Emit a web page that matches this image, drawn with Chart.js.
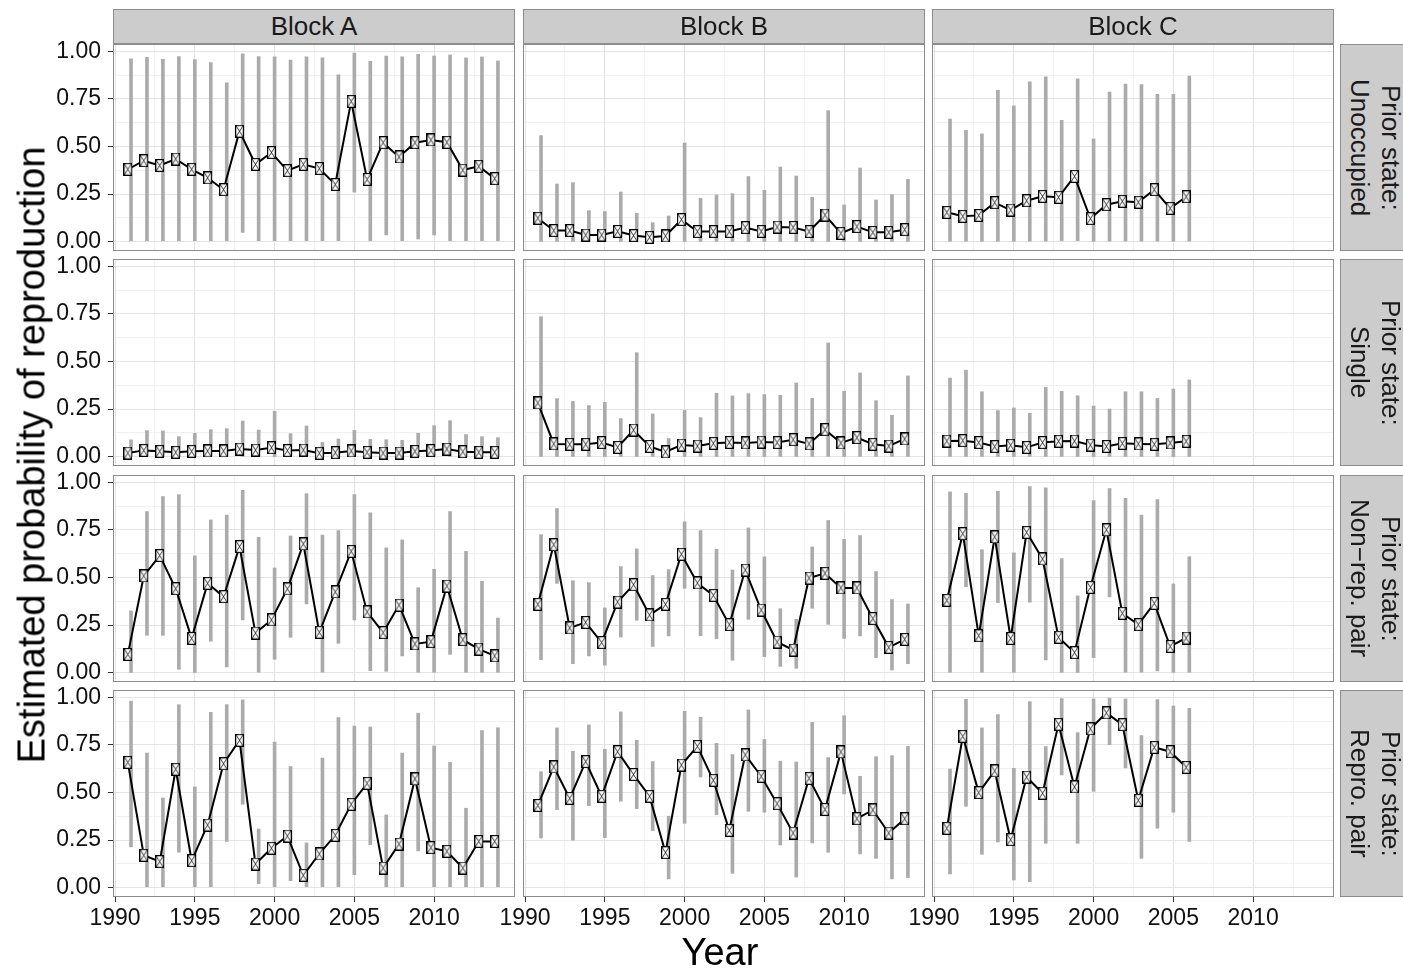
<!DOCTYPE html>
<html>
<head>
<meta charset="utf-8">
<script src="https://cdn.jsdelivr.net/npm/chart.js@4.4.1/dist/chart.umd.min.js"></script>
<style>
body{margin:0;background:#fff;font-family:"Liberation Sans",Arial,sans-serif;}
#fig{position:relative;width:1403px;height:968px;overflow:hidden;background:#fff;}
canvas{position:absolute;}
.strip{position:absolute;background:#cccccc;border:1px solid #8c8c8c;box-sizing:border-box;color:#1a1a1a;font-size:26px;display:flex;align-items:center;justify-content:center;text-align:center;line-height:31px;}
.rstrip div{writing-mode:vertical-rl;white-space:nowrap;}
.title{position:absolute;font-size:38px;color:#000;white-space:nowrap;}
</style>
</head>
<body>
<div id="fig"></div>
<script>
// facets
const blocks = ['Block A','Block B','Block C'];
const states = [['Prior state:','Unoccupied'],['Prior state:','Single'],['Prior state:','Non\u2212rep. pair'],['Prior state:','Repro. pair']];
const yearsAB = [1991,1992,1993,1994,1995,1996,1997,1998,1999,2000,2001,2002,2003,2004,2005,2006,2007,2008,2009,2010,2011,2012,2013,2014];
const yearsC = [1991,1992,1993,1994,1995,1996,1997,1998,1999,2000,2001,2002,2003,2004,2005,2006];
const xTickLabels = [1990,1995,2000,2005,2010];
const yTickLabels = [0,0.25,0.5,0.75,1];

// prior state: unoccupied
const unoccA_est = [0.38,0.425,0.40,0.434,0.38,0.335,0.273,0.58,0.406,0.468,0.373,0.406,0.384,0.30,0.737,0.327,0.52,0.445,0.52,0.534,0.522,0.376,0.396,0.331];
const unoccA_lo  = [0.005,0.005,0.005,0.005,0.005,0.005,0.005,0.049,0.005,0.005,0.005,0.005,0.005,0.005,0.26,0.005,0.035,0.005,0.014,0.035,0.005,0.005,0.005,0.005];
const unoccA_hi  = [0.96,0.968,0.958,0.972,0.956,0.94,0.834,0.986,0.972,0.97,0.954,0.97,0.965,0.876,0.99,0.947,0.975,0.97,0.984,0.975,0.98,0.965,0.97,0.949];
const unoccB_est = [0.123,0.058,0.058,0.035,0.035,0.054,0.032,0.023,0.03,0.116,0.053,0.053,0.053,0.074,0.054,0.077,0.075,0.053,0.14,0.044,0.079,0.049,0.049,0.063];
const unoccB_lo  = [0.001,0.001,0.001,0.001,0.001,0.001,0.001,0.001,0.001,0.001,0.001,0.001,0.001,0.001,0.001,0.001,0.001,0.001,0.001,0.001,0.001,0.001,0.001,0.001];
const unoccB_hi  = [0.557,0.303,0.31,0.163,0.158,0.261,0.149,0.10,0.135,0.518,0.228,0.245,0.252,0.342,0.27,0.392,0.345,0.233,0.688,0.193,0.387,0.219,0.247,0.327];
const unoccC_est = [0.154,0.133,0.138,0.205,0.166,0.215,0.238,0.233,0.343,0.121,0.194,0.212,0.207,0.273,0.175,0.236];
const unoccC_lo  = [0.002,0.002,0.002,0.002,0.002,0.002,0.002,0.005,0.005,0.002,0.002,0.002,0.002,0.002,0.002,0.002];
const unoccC_hi  = [0.644,0.585,0.566,0.795,0.713,0.84,0.865,0.637,0.855,0.539,0.785,0.827,0.825,0.774,0.774,0.87];

// prior state: single
const singleA_est = [0.019,0.033,0.028,0.023,0.028,0.03,0.03,0.04,0.035,0.047,0.032,0.035,0.018,0.021,0.03,0.023,0.019,0.019,0.028,0.032,0.04,0.026,0.023,0.023];
const singleA_lo  = [0.001,0.001,0.001,0.001,0.001,0.001,0.001,0.001,0.001,0.001,0.001,0.001,0.001,0.001,0.001,0.001,0.001,0.001,0.001,0.001,0.001,0.001,0.001,0.001];
const singleA_hi  = [0.088,0.137,0.135,0.105,0.123,0.142,0.147,0.187,0.14,0.238,0.121,0.161,0.075,0.093,0.138,0.091,0.089,0.086,0.123,0.163,0.189,0.116,0.105,0.10];
const singleB_est = [0.282,0.067,0.065,0.065,0.074,0.049,0.14,0.054,0.025,0.061,0.056,0.07,0.075,0.072,0.077,0.074,0.089,0.067,0.142,0.072,0.10,0.065,0.056,0.093];
const singleB_lo  = [0.001,0.001,0.001,0.001,0.001,0.001,0.001,0.001,0.001,0.001,0.001,0.001,0.001,0.001,0.001,0.001,0.001,0.001,0.001,0.001,0.001,0.001,0.001,0.001];
const singleB_hi  = [0.735,0.305,0.29,0.268,0.285,0.20,0.546,0.224,0.095,0.243,0.205,0.333,0.319,0.331,0.326,0.322,0.387,0.306,0.597,0.343,0.44,0.294,0.217,0.424];
const singleC_est = [0.082,0.084,0.074,0.053,0.06,0.049,0.074,0.081,0.082,0.061,0.054,0.07,0.067,0.065,0.072,0.081];
const singleC_lo  = [0.001,0.001,0.001,0.001,0.001,0.001,0.001,0.001,0.001,0.001,0.001,0.001,0.001,0.001,0.001,0.001];
const singleC_hi  = [0.413,0.454,0.341,0.242,0.256,0.228,0.364,0.343,0.32,0.266,0.25,0.341,0.341,0.306,0.355,0.403];

// prior state: non-rep. pair
const nonrepA_est = [0.096,0.508,0.615,0.441,0.18,0.469,0.399,0.662,0.208,0.277,0.44,0.676,0.212,0.424,0.637,0.319,0.21,0.355,0.151,0.163,0.455,0.173,0.124,0.088];
const nonrepA_lo  = [0.001,0.196,0.196,0.018,0.001,0.165,0.03,0.277,0.003,0.07,0.186,0.361,0.002,0.154,0.277,0.01,0.007,0.088,0.002,0.002,0.096,0.002,0.002,0.002];
const nonrepA_hi  = [0.324,0.846,0.925,0.935,0.613,0.802,0.828,0.958,0.711,0.55,0.718,0.94,0.723,0.746,0.935,0.84,0.655,0.697,0.446,0.543,0.846,0.637,0.48,0.287];
const nonrepB_est = [0.359,0.672,0.235,0.264,0.158,0.371,0.462,0.303,0.359,0.622,0.471,0.406,0.252,0.539,0.329,0.161,0.119,0.497,0.522,0.445,0.445,0.284,0.133,0.175];
const nonrepB_lo  = [0.068,0.469,0.047,0.088,0.039,0.187,0.275,0.138,0.193,0.443,0.194,0.179,0.065,0.28,0.084,0.033,0.023,0.338,0.254,0.18,0.193,0.079,0.014,0.047];
const nonrepB_hi  = [0.725,0.862,0.483,0.473,0.34,0.557,0.65,0.51,0.541,0.792,0.746,0.648,0.539,0.76,0.608,0.336,0.28,0.66,0.799,0.70,0.72,0.531,0.384,0.361];
const nonrepC_est = [0.38,0.73,0.194,0.713,0.18,0.737,0.597,0.186,0.105,0.448,0.75,0.312,0.252,0.364,0.138,0.182];
const nonrepC_lo  = [0.002,0.452,0.002,0.368,0.002,0.37,0.067,0.002,0.001,0.079,0.398,0.002,0.002,0.009,0.002,0.002];
const nonrepC_hi  = [0.949,0.942,0.646,0.953,0.629,0.977,0.97,0.599,0.403,0.904,0.967,0.916,0.828,0.909,0.466,0.609];

// prior state: repro. pair
const reproA_est = [0.658,0.17,0.137,0.622,0.142,0.329,0.651,0.774,0.124,0.207,0.271,0.065,0.177,0.275,0.438,0.548,0.103,0.229,0.571,0.21,0.191,0.103,0.243,0.243];
const reproA_lo  = [0.214,0.005,0.005,0.186,0.005,0.005,0.243,0.438,0.021,0.005,0.037,0.005,0.005,0.005,0.068,0.226,0.005,0.005,0.193,0.005,0.005,0.005,0.005,0.005];
const reproA_hi  = [0.979,0.707,0.471,0.961,0.529,0.921,0.961,0.986,0.308,0.764,0.636,0.235,0.681,0.893,0.848,0.844,0.382,0.707,0.916,0.744,0.658,0.417,0.825,0.84];
const reproB_est = [0.432,0.634,0.469,0.662,0.48,0.714,0.594,0.48,0.184,0.644,0.742,0.564,0.301,0.697,0.585,0.441,0.287,0.574,0.411,0.713,0.362,0.408,0.287,0.362];
const reproB_lo  = [0.261,0.41,0.25,0.431,0.263,0.454,0.415,0.30,0.046,0.338,0.581,0.384,0.075,0.401,0.396,0.224,0.056,0.235,0.186,0.492,0.177,0.154,0.046,0.053];
const reproB_hi  = [0.609,0.839,0.716,0.855,0.727,0.923,0.774,0.662,0.375,0.926,0.895,0.758,0.699,0.933,0.778,0.664,0.66,0.868,0.683,0.903,0.585,0.688,0.693,0.742];
const reproC_est = [0.312,0.795,0.499,0.613,0.252,0.581,0.496,0.858,0.529,0.834,0.918,0.856,0.459,0.737,0.714,0.632];
const reproC_lo  = [0.072,0.427,0.175,0.24,0.04,0.032,0.233,0.592,0.233,0.506,0.751,0.629,0.154,0.313,0.396,0.243];
const reproC_hi  = [0.623,0.989,0.839,0.909,0.627,0.977,0.741,0.993,0.814,0.991,0.995,0.991,0.799,0.988,0.954,0.942];

const panels = [
  [[yearsAB,unoccA_est,unoccA_lo,unoccA_hi],[yearsAB,unoccB_est,unoccB_lo,unoccB_hi],[yearsC,unoccC_est,unoccC_lo,unoccC_hi]],
  [[yearsAB,singleA_est,singleA_lo,singleA_hi],[yearsAB,singleB_est,singleB_lo,singleB_hi],[yearsC,singleC_est,singleC_lo,singleC_hi]],
  [[yearsAB,nonrepA_est,nonrepA_lo,nonrepA_hi],[yearsAB,nonrepB_est,nonrepB_lo,nonrepB_hi],[yearsC,nonrepC_est,nonrepC_lo,nonrepC_hi]],
  [[yearsAB,reproA_est,reproA_lo,reproA_hi],[yearsAB,reproB_est,reproB_lo,reproB_hi],[yearsC,reproC_est,reproC_lo,reproC_hi]]
];

// layout
const colLeft = [113,523,932], rowTop = [44,259,475,690];
const PW = 402, PH = 207, LEFT_M = 80, BOTTOM_M = 40, TOP_M = 16;
const DODGE = 0.2;
const fig = document.getElementById('fig');

// grid values: major ticks plus the midpoints between them
const xGrid = [], yGrid = [];
xTickLabels.forEach(v => { xGrid.push(v, v + 2.5); });
yTickLabels.forEach((v, i) => { yGrid.push(v); if (i < yTickLabels.length - 1) yGrid.push(v + 0.125); });

// square-with-cross marker
const marker = document.createElement('canvas');
marker.width = 9; marker.height = 13;
(function(){
  const c = marker.getContext('2d');
  c.fillStyle = '#fff'; c.fillRect(0.5,0.5,8,12);
  c.strokeStyle = '#000'; c.lineWidth = 1.2; c.strokeRect(0.6,0.6,7.8,11.8);
  c.lineWidth = 0.8; c.beginPath();
  c.moveTo(1,1); c.lineTo(8,12); c.moveTo(8,1); c.lineTo(1,12); c.stroke();
})();

const panelBorder = {
  id: 'panelBorder',
  afterDraw(chart) {
    const a = chart.chartArea, ctx = chart.ctx;
    ctx.save(); ctx.strokeStyle = '#8c8c8c'; ctx.lineWidth = 1;
    ctx.strokeRect(a.left + 0.5, a.top + 0.5, a.right - a.left - 1, a.bottom - a.top - 1);
    ctx.restore();
  }
};

function makePanel(ri, ci) {
  const [years, est, lo, hi] = panels[ri][ci];
  const cv = document.createElement('canvas');
  cv.width = PW + LEFT_M; cv.height = PH + BOTTOM_M + TOP_M;
  cv.style.left = (colLeft[ci] - LEFT_M) + 'px';
  cv.style.top = (rowTop[ri] - TOP_M) + 'px';
  fig.appendChild(cv);
  const showY = ci === 0, showX = ri === 3;
  new Chart(cv, {
    type: 'line',
    data: {
      datasets: [
        { type: 'line', data: years.map((y, i) => ({x: y - DODGE, y: est[i]})),
          borderColor: '#000', borderWidth: 2, tension: 0,
          pointStyle: marker, pointRadius: 6, order: 0 },
        { type: 'bar', data: years.map((y, i) => ({x: y, y: [lo[i], hi[i]]})),
          backgroundColor: '#ababab', borderWidth: 0, barThickness: 3, grouped: false, order: 1 }
      ]
    },
    options: {
      responsive: false, animation: false,
      layout: { padding: { top: TOP_M, left: 0, right: 0, bottom: 0 }, autoPadding: false },
      plugins: { legend: { display: false }, tooltip: { enabled: false } },
      scales: {
        x: {
          type: 'linear', min: 1989.87, max: 2015.07, offset: false,
          afterBuildTicks: ax => { ax.ticks = xGrid.map(v => ({value: v})); },
          afterFit: ax => { ax.height = BOTTOM_M; ax.paddingLeft = 0; ax.paddingRight = 0; },
          border: { display: false },
          grid: {
            offset: false, drawTicks: showX, tickLength: 5,
            color: c => xTickLabels.includes(c.tick.value) ? '#e3e3e3' : '#f1f1f1',
            tickColor: c => xTickLabels.includes(c.tick.value) ? '#333' : 'rgba(0,0,0,0)'
          },
          ticks: {
            display: showX, autoSkip: false, maxRotation: 0, padding: 3,
            color: '#111', font: { family: 'Liberation Sans', size: 23 },
            callback: v => xTickLabels.includes(v) ? String(v) : ''
          }
        },
        y: {
          type: 'linear', min: -0.049, max: 1.038,
          afterBuildTicks: ax => { ax.ticks = yGrid.map(v => ({value: v})); },
          afterFit: ax => { ax.width = LEFT_M; ax.paddingTop = 0; ax.paddingBottom = 0; },
          border: { display: false },
          grid: {
            drawTicks: showY, tickLength: 5,
            color: c => yTickLabels.includes(c.tick.value) ? '#e3e3e3' : '#f1f1f1',
            tickColor: c => yTickLabels.includes(c.tick.value) ? '#333' : 'rgba(0,0,0,0)'
          },
          ticks: {
            display: showY, autoSkip: false, padding: 7,
            color: '#111', font: { family: 'Liberation Sans', size: 23 },
            callback: v => yTickLabels.includes(v) ? v.toFixed(2) : ''
          }
        }
      }
    },
    plugins: [panelBorder]
  });
}

for (let r = 0; r < 4; r++) for (let c = 0; c < 3; c++) makePanel(r, c);

// strips
blocks.forEach((b, ci) => {
  const d = document.createElement('div');
  d.className = 'strip';
  Object.assign(d.style, { left: colLeft[ci] + 'px', top: '9px', width: PW + 'px', height: (rowTop[0] - 9) + 'px' });
  d.textContent = b;
  fig.appendChild(d);
});
states.forEach((s, ri) => {
  const d = document.createElement('div');
  d.className = 'strip rstrip';
  Object.assign(d.style, { left: '1340px', top: rowTop[ri] + 'px', width: '70px', height: PH + 'px' });
  const t = document.createElement('div');
  t.innerHTML = s[0] + '<br>' + s[1];
  d.appendChild(t);
  fig.appendChild(d);
});

// axis titles
const yt = document.createElement('div');
yt.className = 'title';
yt.textContent = 'Estimated probability of reproduction';
Object.assign(yt.style, { left: '32px', top: '455px', transform: 'translate(-50%,-50%) rotate(-90deg)' });
fig.appendChild(yt);
const xt = document.createElement('div');
xt.className = 'title';
xt.textContent = 'Year';
Object.assign(xt.style, { left: '720px', top: '952px', transform: 'translate(-50%,-50%)' });
fig.appendChild(xt);
</script>
</body>
</html>
